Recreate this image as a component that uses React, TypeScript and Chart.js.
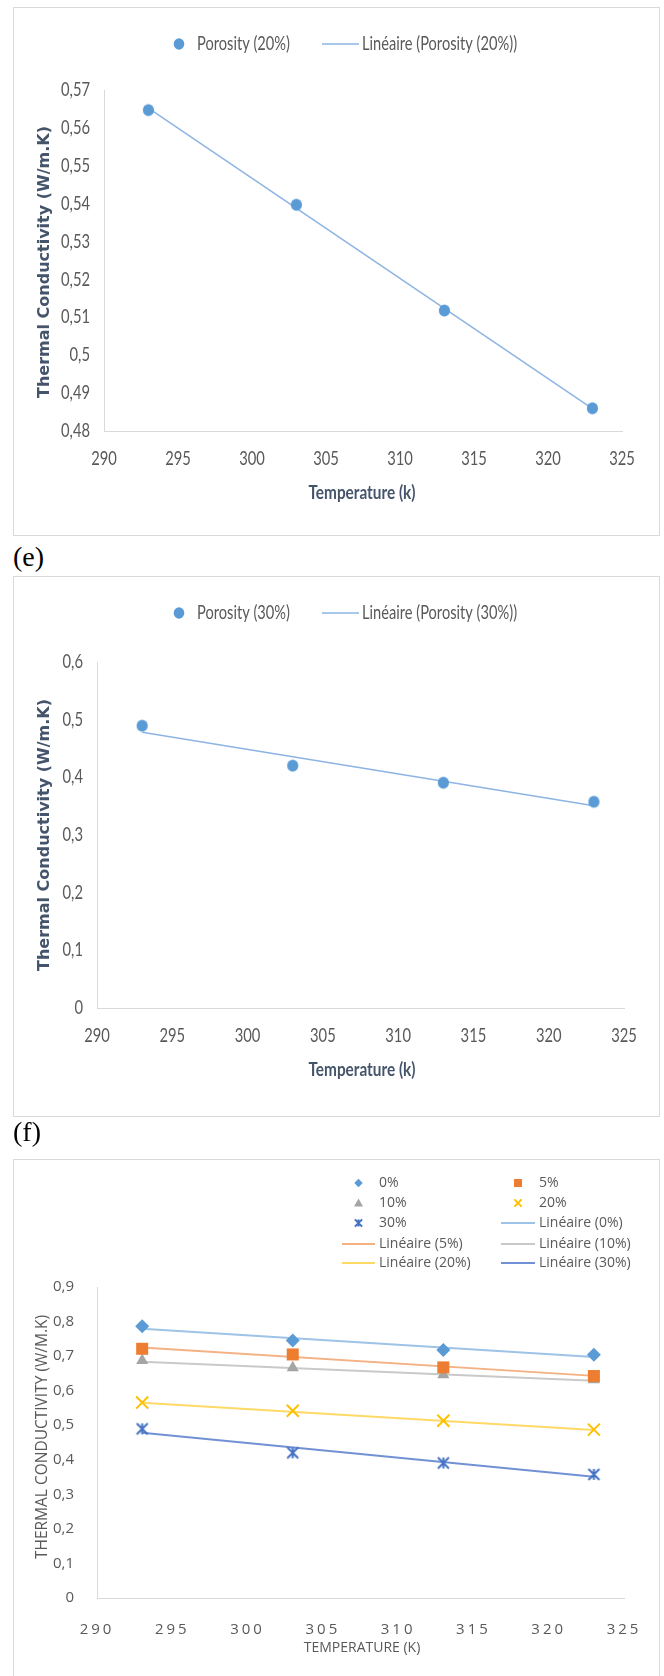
import React, { useEffect, useRef } from 'react';
import { Chart, registerables } from 'chart.js';

Chart.register(...registerables);

// ---------- data ----------
const TEMPERATURE = [293, 303, 313, 323];
const TREND_T = [293, 323];
const X_TICKS = [290, 295, 300, 305, 310, 315, 320, 325];

// (e) porosity 20 %
const POROSITY_20 = [0.5647, 0.5397, 0.5118, 0.486];
const TREND_POROSITY_20 = [0.5652, 0.4859];
const Y_TICKS_E = [0.48, 0.49, 0.5, 0.51, 0.52, 0.53, 0.54, 0.55, 0.56, 0.57];

// (f) porosity 30 %
const POROSITY_30 = [0.4895, 0.4203, 0.3907, 0.3576];
const TREND_POROSITY_30 = [0.4783, 0.3507];
const Y_TICKS_F = [0, 0.1, 0.2, 0.3, 0.4, 0.5, 0.6];

// comparison of all porosities
const SERIES = ['0%', '5%', '10%', '20%', '30%'];
const K_0 = [0.7865, 0.745, 0.718, 0.704];
const K_5 = [0.7212, 0.7048, 0.6673, 0.6423];
const K_10 = [0.6875, 0.6663, 0.6462, 0.6317];
const K_20 = [0.5655, 0.542, 0.513, 0.4872];
const K_30 = [0.4895, 0.4203, 0.3907, 0.3576];
const TREND_0 = [0.7795, 0.6972];
const TREND_5 = [0.725, 0.6428];
const TREND_10 = [0.684, 0.6285];
const TREND_20 = [0.5652, 0.4859];
const TREND_30 = [0.4783, 0.3507];
const Y_TICKS_ALL = [0, 0.1, 0.2, 0.3, 0.4, 0.5, 0.6, 0.7, 0.8, 0.9];

// ---------- styling ----------
const LATO = 'Lato, "Open Sans", sans-serif';
const OPEN = '"Open Sans", sans-serif';
const AXIS = '#D9D9D9';
const TICK = '#595959';
const TITLE = '#44546A';

const fmt = (v: number) => String(parseFloat(Number(v).toFixed(2))).replace('.', ',');
const pts = (xs: number[], ys: number[]) => xs.map((x, i) => ({ x, y: ys[i] }));

function drawShape(ctx: CanvasRenderingContext2D, shape: string, x: number, y: number, r: number, color: string, lw = 2) {
  ctx.save();
  ctx.fillStyle = color;
  ctx.strokeStyle = color;
  ctx.lineWidth = lw;
  ctx.beginPath();
  if (shape === 'circle') {
    ctx.ellipse(x, y, r, r * 1.08, 0, 0, Math.PI * 2);
    ctx.fill();
  } else if (shape === 'diamond') {
    ctx.moveTo(x, y - r); ctx.lineTo(x + r, y); ctx.lineTo(x, y + r); ctx.lineTo(x - r, y); ctx.closePath(); ctx.fill();
  } else if (shape === 'square') {
    ctx.rect(x - r, y - r, 2 * r, 2 * r); ctx.fill();
  } else if (shape === 'triangle') {
    ctx.moveTo(x, y - r); ctx.lineTo(x + r, y + r * 0.8); ctx.lineTo(x - r, y + r * 0.8); ctx.closePath(); ctx.fill();
  } else if (shape === 'x') {
    ctx.moveTo(x - r, y - r); ctx.lineTo(x + r, y + r);
    ctx.moveTo(x - r, y + r); ctx.lineTo(x + r, y - r); ctx.stroke();
  } else if (shape === 'star') {
    ctx.moveTo(x - r, y - r); ctx.lineTo(x + r, y + r);
    ctx.moveTo(x - r, y + r); ctx.lineTo(x + r, y - r);
    ctx.moveTo(x, y - r); ctx.lineTo(x, y + r); ctx.stroke();
  }
  ctx.restore();
}

function markerImage(shape: string, half: number, color: string, lw: number) {
  const c = document.createElement('canvas');
  const s = Math.ceil(half * 2 + lw + 4);
  c.width = s; c.height = s;
  const ctx = c.getContext('2d') as CanvasRenderingContext2D;
  drawShape(ctx, shape, s / 2, s / 2, half, color, lw);
  return c;
}

function drawText(ctx: CanvasRenderingContext2D, text: string, x: number, y: number, font: string, color: string, align: CanvasTextAlign, sx = 1, rotate = 0) {
  ctx.save();
  ctx.translate(x, y);
  if (rotate) ctx.rotate((rotate * Math.PI) / 180);
  ctx.scale(sx, 1);
  ctx.font = font;
  ctx.fillStyle = color;
  ctx.textAlign = align;
  ctx.textBaseline = 'middle';
  ctx.fillText(text, 0, 0);
  ctx.restore();
}

function fitScale(ctx: CanvasRenderingContext2D, font: string, sample: string, target: number) {
  ctx.save();
  ctx.font = font;
  const w = ctx.measureText(sample).width;
  ctx.restore();
  return w > 0 ? Math.min(1, target / w) : 1;
}

type Title = { text: string; x: number; y: number; rotate?: number; font: string; color: string; fitSample?: string; fitWidth?: number };
type LegendItem = { index: number; line?: boolean; shape?: string; color?: string; r?: number; x0: number; x1: number; tx: number; y: number };
type Decor = {
  titles: Title[];
  legend: LegendItem[];
  legendFont: string;
  legendColor: string;
  legendFit?: [string, number];
  xLetterSpacing?: string;
  ticks?: { font: string; fit: [string, number]; xOffset: number; yPad: number; yTicks: number[] };
};

function makeDecor(spec: Decor) {
  return {
    id: 'decor',
    beforeDraw(chart: any) {
      chart.ctx.letterSpacing = '0px';
    },
    afterDatasetsDraw(chart: any) {
      if (spec.xLetterSpacing) chart.ctx.letterSpacing = spec.xLetterSpacing;
    },
    afterDraw(chart: any) {
      const ctx = chart.ctx as CanvasRenderingContext2D;
      (ctx as any).letterSpacing = '0px';
      const area = chart.chartArea;
      if (spec.ticks) {
        const t = spec.ticks;
        const sx = fitScale(ctx, t.font, t.fit[0], t.fit[1]);
        for (const v of t.yTicks) {
          drawText(ctx, fmt(v), area.left - t.yPad, chart.scales.y.getPixelForValue(v), t.font, TICK, 'right', sx);
        }
        for (const v of X_TICKS) {
          drawText(ctx, String(v), chart.scales.x.getPixelForValue(v), area.bottom + t.xOffset, t.font, TICK, 'center', sx);
        }
      }
      for (const t of spec.titles) {
        const sx = t.fitSample ? fitScale(ctx, t.font, t.fitSample, t.fitWidth || 100) : 1;
        drawText(ctx, t.text, t.x, t.y, t.font, t.color, 'center', sx, t.rotate || 0);
      }
      const lsx = spec.legendFit ? fitScale(ctx, spec.legendFont, spec.legendFit[0], spec.legendFit[1]) : 1;
      for (const it of spec.legend) {
        const ds = chart.data.datasets[it.index];
        if (it.line) {
          ctx.save();
          ctx.beginPath();
          ctx.strokeStyle = ds.borderColor;
          ctx.lineWidth = ds.borderWidth;
          ctx.moveTo(it.x0, it.y);
          ctx.lineTo(it.x1, it.y);
          ctx.stroke();
          ctx.restore();
        } else {
          drawShape(ctx, it.shape || 'circle', (it.x0 + it.x1) / 2, it.y, it.r || 5, it.color || '#000', 2);
        }
        drawText(ctx, ds.label, it.tx, it.y, spec.legendFont, spec.legendColor, 'left', lsx);
      }
    },
  };
}

type Plot = { left: number; right: number; top: number; bottom: number };

function scales(p: {
  w: number; h: number; plot: Plot; yTicks: number[]; tickFont: any; xPad: number; yPad: number; xZ?: number; showTicks: boolean;
}) {
  return {
    x: {
      type: 'linear',
      min: 290,
      max: 325,
      grid: { display: false },
      border: { display: true, color: AXIS, width: 1 },
      afterBuildTicks: (s: any) => { s.ticks = X_TICKS.map((v) => ({ value: v })); },
      afterFit: (s: any) => { s.height = p.h - p.plot.bottom; },
      ticks: { display: p.showTicks, font: p.tickFont, color: TICK, padding: p.xPad, maxRotation: 0, autoSkip: false, z: p.xZ || 0, callback: (v: any) => String(v) },
    },
    y: {
      type: 'linear',
      min: p.yTicks[0],
      max: p.yTicks[p.yTicks.length - 1],
      grid: { display: false },
      border: { display: true, color: AXIS, width: 1 },
      afterBuildTicks: (s: any) => { s.ticks = p.yTicks.map((v) => ({ value: v })); },
      afterFit: (s: any) => { s.width = p.plot.left; },
      ticks: { display: p.showTicks, font: p.tickFont, color: TICK, padding: p.yPad, autoSkip: false, callback: (v: any) => fmt(v) },
    },
  };
}

function baseOptions(w: number, plot: Plot, sc: any) {
  return {
    responsive: false,
    animation: false,
    events: [],
    layout: { padding: { top: plot.top, right: w - plot.right, left: 0, bottom: 0 } },
    plugins: { legend: { display: false }, tooltip: { enabled: false }, title: { display: false } },
    scales: sc,
  };
}

// ---------- chart configs ----------
function singleConfig(w: number, h: number, plot: Plot, yTicks: number[], label: string, data: number[], trend: number[], yTitleY: number, yTitleLen: number) {
  const spec: Decor = {
    titles: [
      { text: 'Thermal Conductivity (W/m.K)', x: 32, y: yTitleY, rotate: -90, font: 'bold 16px "DejaVu Sans", sans-serif', color: TITLE, fitSample: 'Thermal Conductivity (W/m.K)', fitWidth: yTitleLen },
      { text: 'Temperature (k)', x: 349, y: plot.bottom + 62, font: `bold 19px ${LATO}`, color: TITLE, fitSample: 'Temperature (k)', fitWidth: 107 },
    ],
    legend: [
      { index: 0, shape: 'circle', color: '#5B9BD5', r: 5.3, x0: 148, x1: 184, tx: 184, y: 37 },
      { index: 1, line: true, x0: 309, x1: 346, tx: 349, y: 37 },
    ],
    legendFont: `19px ${LATO}`,
    legendColor: TICK,
    legendFit: ['Porosity (20%)', 93],
    ticks: { font: `19px ${LATO}`, fit: ['0,57', 29], xOffset: 28, yPad: 14, yTicks },
  };
  const circle = markerImage('circle', 5.6, '#5B9BD5', 1);
  return {
    type: 'scatter',
    data: {
      datasets: [
        {
          label,
          data: pts(TEMPERATURE, data),
          pointStyle: circle,
          pointRadius: 6,
          showLine: false,
        },
        {
          label: `Linéaire (${label})`,
          data: pts(TREND_T, trend),
          showLine: true,
          pointRadius: 0,
          borderColor: '#8DB4E2',
          borderWidth: 1.5,
        },
      ],
    },
    options: baseOptions(w, plot, scales({ w, h, plot, yTicks, tickFont: { family: LATO, size: 18 }, xPad: 16, yPad: 14, showTicks: false })),
    plugins: [makeDecor(spec)],
  };
}

function allConfig(w: number, h: number, plot: Plot) {
  const values = [K_0, K_5, K_10, K_20, K_30];
  const trends = [TREND_0, TREND_5, TREND_10, TREND_20, TREND_30];
  const colors = ['#5B9BD5', '#ED7D31', '#A5A5A5', '#FFC000', '#4472C4'];
  const trendColors = ['#9DC3E6', '#F4B183', '#C9C9C9', '#FFD966', '#7191D4'];
  const legendShapes = ['diamond', 'square', 'triangle', 'x', 'star'];
  const legendR = [4.2, 4, 4.5, 3.6, 3.6];
  const star = markerImage('star', 5.5, '#4472C4', 2);
  const markerStyles: any[] = [
    { pointStyle: 'rectRot', pointRadius: 7 },
    { pointStyle: 'rect', pointRadius: 8.5 },
    { pointStyle: 'triangle', pointRadius: 7 },
    { pointStyle: 'crossRot', pointRadius: 8.5, pointBorderWidth: 2 },
    { pointStyle: star, pointRadius: 6 },
  ];
  const datasets: any[] = [];
  SERIES.forEach((s, i) => {
    datasets.push({
      label: s,
      data: pts(TEMPERATURE, values[i]),
      showLine: false,
      pointBackgroundColor: colors[i],
      pointBorderColor: colors[i],
      pointBorderWidth: 0,
      ...markerStyles[i],
    });
  });
  SERIES.forEach((s, i) => {
    datasets.push({
      label: `Linéaire (${s})`,
      data: pts(TREND_T, trends[i]),
      showLine: true,
      pointRadius: 0,
      borderColor: trendColors[i],
      borderWidth: 2,
    });
  });
  const rows = [24, 44, 64, 85, 104];
  const cols = [{ x0: 329, x1: 362, tx: 366 }, { x0: 488, x1: 522, tx: 526 }];
  const legend: LegendItem[] = datasets.map((_d, k) => {
    const c = cols[k % 2];
    const y = rows[Math.floor(k / 2)];
    if (k < 5) return { index: k, shape: legendShapes[k], color: colors[k], r: legendR[k], x0: c.x0, x1: c.x1, tx: c.tx, y };
    return { index: k, line: true, x0: c.x0, x1: c.x1, tx: c.tx, y };
  });
  const spec: Decor = {
    titles: [
      { text: 'THERMAL CONDUCTIVITY (W/M.K)', x: 30, y: 278, rotate: -90, font: `15.5px ${OPEN}`, color: TICK },
      { text: 'TEMPERATURE (K)', x: 349, y: plot.bottom + 50, font: `14px ${OPEN}`, color: TICK },
    ],
    legend,
    legendFont: `14px ${OPEN}`,
    legendColor: TICK,
    xLetterSpacing: '3px',
  };
  return {
    type: 'scatter',
    data: { datasets },
    options: baseOptions(w, plot, scales({ w, h, plot, yTicks: Y_TICKS_ALL, tickFont: { family: OPEN, size: 15 }, xPad: 15, yPad: 15, xZ: 1, showTicks: true })),
    plugins: [makeDecor(spec)],
  };
}

function Panel({ left, top, width, height, build, noBottom }: any) {
  const ref = useRef<HTMLCanvasElement | null>(null);
  useEffect(() => {
    const chart = new Chart(ref.current as HTMLCanvasElement, build());
    return () => chart.destroy();
  }, []);
  return (
    <>
      <canvas ref={ref} width={width} height={height} style={{ position: 'absolute', left, top, width, height, display: 'block' }} />
      <div
        style={{
          position: 'absolute', left, top, width, height, boxSizing: 'border-box',
          border: `1px solid ${AXIS}`, borderBottom: noBottom ? 'none' : `1px solid ${AXIS}`, pointerEvents: 'none',
        }}
      />
    </>
  );
}

const captionStyle: React.CSSProperties = {
  position: 'absolute', left: 13, fontFamily: '"Liberation Serif", "Times New Roman", serif', fontSize: 28, lineHeight: '30px', color: '#000',
};

export default function App() {
  return (
    <div style={{ position: 'absolute', left: 0, top: 0, width: 664, height: 1676, background: '#fff', overflow: 'hidden' }}>
      <Panel
        left={13} top={7} width={647} height={529}
        build={() => singleConfig(647, 529, { left: 91, right: 609, top: 83, bottom: 424 }, Y_TICKS_E, 'Porosity (20%)', POROSITY_20, TREND_POROSITY_20, 255, 281)}
      />
      <div style={{ ...captionStyle, top: 542 }}>(e)</div>
      <Panel
        left={13} top={576} width={647} height={541}
        build={() => singleConfig(647, 541, { left: 84, right: 611, top: 86, bottom: 432 }, Y_TICKS_F, 'Porosity (30%)', POROSITY_30, TREND_POROSITY_30, 259, 287)}
      />
      <div style={{ ...captionStyle, top: 1117 }}>(f)</div>
      <Panel
        left={13} top={1159} width={647} height={517} noBottom
        build={() => allConfig(647, 517, { left: 84, right: 611, top: 128, bottom: 439 })}
      />
    </div>
  );
}
